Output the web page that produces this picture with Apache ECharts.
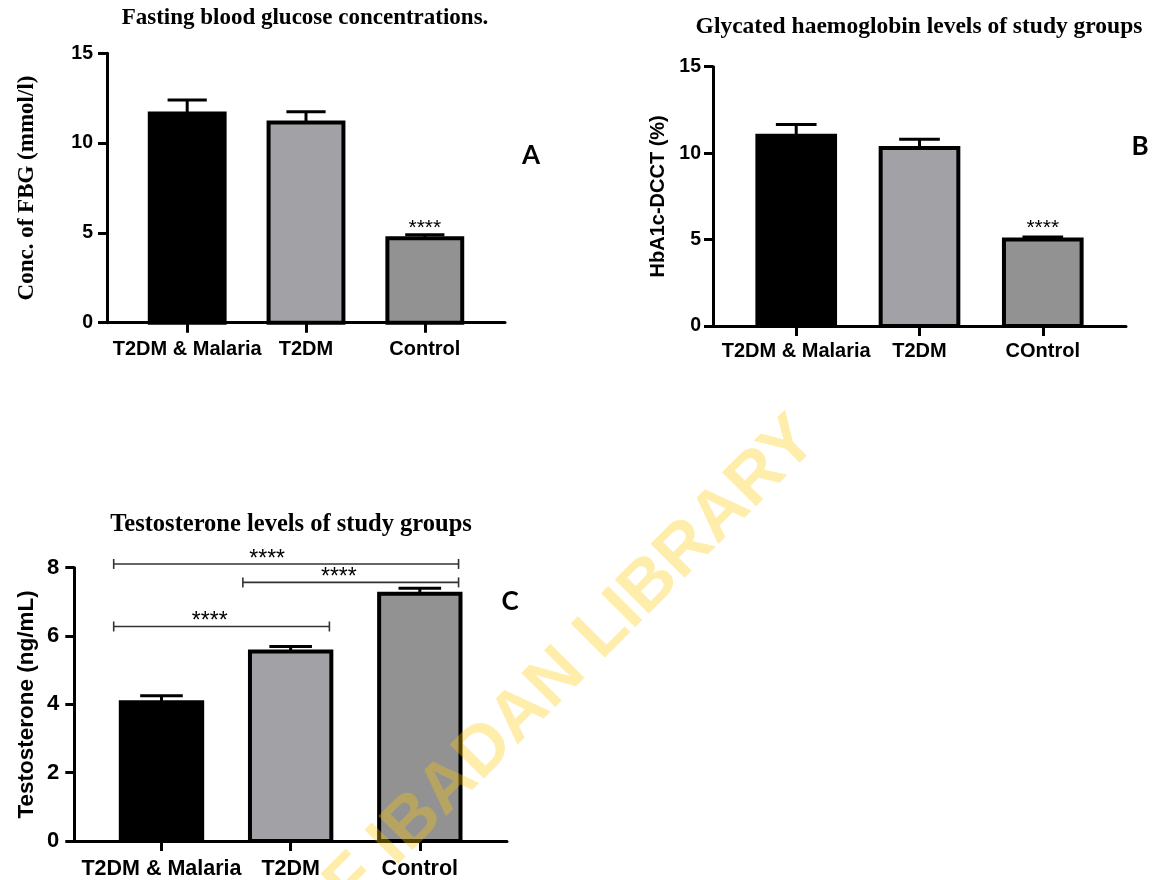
<!DOCTYPE html>
<html>
<head>
<meta charset="utf-8">
<script src="https://cdn.jsdelivr.net/npm/echarts@6/dist/echarts.min.js"></script>
<style>
  html, body { margin: 0; padding: 0; background: #fff; }
  #chart { width: 1157px; height: 880px; }
</style>
</head>
<body>
<div id="chart"></div>
<script>
// Groups
const groupsA = ['T2DM & Malaria', 'T2DM', 'Control'];
const groupsB = ['T2DM & Malaria', 'T2DM', 'COntrol'];
const groupsC = ['T2DM & Malaria', 'T2DM', 'Control'];

// A: fasting blood glucose (mmol/l), mean and SEM
const fbgMean = [11.65, 11.15, 4.7];
const fbgSem = [0.75, 0.6, 0.2];
const fbgSig = ['', '', '****'];

// B: HbA1c-DCCT (%), mean and SEM
const hba1cMean = [11.0, 10.3, 5.0];
const hba1cSem = [0.65, 0.5, 0.15];
const hba1cSig = ['', '', '****'];

// C: testosterone (ng/mL), mean and SEM
const testoMean = [4.06, 5.55, 7.24];
const testoSem = [0.19, 0.14, 0.16];

// C: pairwise comparisons [from group, to group], bracket height and result
const comparisons = [[0, 2], [1, 2], [0, 1]];
const comparisonLevel = [8.11, 7.57, 6.28];
const comparisonSig = ['****', '****', '****'];

// Axis ticks
const ticksA = [0, 5, 10, 15];
const ticksB = [0, 5, 10, 15];
const ticksC = [0, 2, 4, 6, 8];

const barColors = ['#000000', '#a2a1a6', '#929292'];
const SANS = '"Liberation Sans", Arial, Helvetica, sans-serif';
const SERIF = '"Liberation Serif", "Times New Roman", Times, serif';
const BAR_HALF = 0.315;
const CAP_HALF = 0.165;
const X_MIN = -0.675, X_MAX = 2.675;

function barRenderer(labels, starFont, starGap) {
  return function (params, api) {
    const i = api.value(0), mean = api.value(1), sem = api.value(2);
    const tl = api.coord([i - BAR_HALF, mean]);
    const br = api.coord([i + BAR_HALF, 0]);
    const top = api.coord([i, mean + sem]);
    const capL = api.coord([i - CAP_HALF, mean + sem]);
    const capR = api.coord([i + CAP_HALF, mean + sem]);
    const children = [
      { type: 'line', shape: { x1: top[0], y1: tl[1], x2: top[0], y2: top[1] },
        style: { stroke: '#000', lineWidth: 3 } },
      { type: 'line', shape: { x1: capL[0], y1: top[1], x2: capR[0], y2: top[1] },
        style: { stroke: '#000', lineWidth: 3 } },
      { type: 'rect', shape: { x: tl[0], y: tl[1], width: br[0] - tl[0], height: br[1] - tl[1] },
        style: { fill: barColors[params.dataIndex], stroke: '#000', lineWidth: 4 } }
    ];
    const lab = labels[params.dataIndex];
    if (lab) {
      children.push({ type: 'text', x: top[0], y: top[1] - starGap,
        style: { text: lab, fill: '#000', font: starFont, align: 'center', verticalAlign: 'middle',
                 textAlign: 'center', textVerticalAlign: 'middle' } });
    }
    return { type: 'group', children: children };
  };
}

// Significance bracket between two groups, with its result written a little left of centre
function bracketRenderer(params, api) {
  const a = api.value(0) - 0.37, b = api.value(1) + 0.30, lvl = api.value(2);
  const p1 = api.coord([a, lvl]);
  const p2 = api.coord([b, lvl]);
  const pm = api.coord([a + (b - a) * 0.445, lvl]);
  const st = { stroke: '#333', lineWidth: 1.6 };
  return { type: 'group', children: [
    { type: 'line', shape: { x1: p1[0], y1: p1[1], x2: p2[0], y2: p2[1] }, style: st },
    { type: 'line', shape: { x1: p1[0], y1: p1[1] - 5, x2: p1[0], y2: p1[1] + 5 }, style: st },
    { type: 'line', shape: { x1: p2[0], y1: p2[1] - 5, x2: p2[0], y2: p2[1] + 5 }, style: st },
    { type: 'text', x: pm[0], y: pm[1] - 4.5,
      style: { text: comparisonSig[params.dataIndex], fill: '#000', font: '23px ' + SANS,
               align: 'center', verticalAlign: 'middle', textAlign: 'center', textVerticalAlign: 'middle' } }
  ] };
}

function xAxisFor(gridIndex, names, fontSize, margin) {
  return {
    type: 'value', gridIndex: gridIndex, min: X_MIN, max: X_MAX,
    splitLine: { show: false },
    axisLine: { show: true, onZero: false, lineStyle: { color: '#000', width: 3 } },
    axisTick: { show: true, customValues: [0, 1, 2], length: 10, lineStyle: { color: '#000', width: 3 } },
    axisLabel: { customValues: [0, 1, 2], formatter: function (v) { return names[Math.round(v)]; },
                 color: '#000', fontFamily: SANS, fontWeight: 'bold', fontSize: fontSize, margin: margin }
  };
}

function yAxisFor(gridIndex, ticks, name, nameFont, nameSize, nameGap, labelSize, labelMargin) {
  return {
    type: 'value', gridIndex: gridIndex, min: ticks[0], max: ticks[ticks.length - 1],
    interval: ticks[1] - ticks[0],
    splitLine: { show: false },
    axisLine: { show: true, onZero: false, lineStyle: { color: '#000', width: 3 } },
    axisTick: { show: true, length: 9, lineStyle: { color: '#000', width: 3 } },
    axisLabel: { color: '#000', fontFamily: SANS, fontWeight: 'bold', fontSize: labelSize, margin: labelMargin },
    name: name, nameLocation: 'middle', nameRotate: 90, nameGap: nameGap,
    nameTextStyle: { color: '#000', fontFamily: nameFont, fontWeight: 'bold', fontSize: nameSize }
  };
}

const chart = echarts.init(document.getElementById('chart'), null, { renderer: 'canvas' });

const option = {
  backgroundColor: '#ffffff',
  animation: false,
  title: [
    { text: 'Fasting blood glucose concentrations.', left: 305, top: 7, textAlign: 'center', padding: 0,
      textStyle: { fontFamily: SERIF, fontWeight: 'bold', fontSize: 23, color: '#000' } },
    { text: 'Glycated haemoglobin levels of study groups', left: 919, top: 15, textAlign: 'center', padding: 0,
      textStyle: { fontFamily: SERIF, fontWeight: 'bold', fontSize: 23.5, color: '#000' } },
    { text: 'Testosterone levels of study groups', left: 291, top: 512, textAlign: 'center', padding: 0,
      textStyle: { fontFamily: SERIF, fontWeight: 'bold', fontSize: 24.5, color: '#000' } }
  ],
  grid: [
    { left: 107, top: 53.3, width: 398, height: 269.4 },
    { left: 713, top: 66.7, width: 413, height: 259.3 },
    { left: 74.3, top: 567.7, width: 432.7, height: 274 }
  ],
  xAxis: [
    xAxisFor(0, groupsA, 20, 17),
    xAxisFor(1, groupsB, 20, 15),
    xAxisFor(2, groupsC, 21.5, 17)
  ],
  yAxis: [
    yAxisFor(0, ticksA, 'Conc. of FBG (mmol/l)', SERIF, 23, 68, 19.5, 14),
    yAxisFor(1, ticksB, 'HbA1c-DCCT (%)', SANS, 20, 45, 19.5, 12),
    yAxisFor(2, ticksC, 'Testosterone (ng/mL)', SANS, 22.5, 36, 22, 15)
  ],
  series: [
    { type: 'custom', xAxisIndex: 0, yAxisIndex: 0, clip: false, encode: { x: 0, y: 1 },
      renderItem: barRenderer(fbgSig, '21px ' + SANS, 6),
      data: fbgMean.map(function (m, i) { return [i, m, fbgSem[i]]; }) },
    { type: 'custom', xAxisIndex: 1, yAxisIndex: 1, clip: false, encode: { x: 0, y: 1 },
      renderItem: barRenderer(hba1cSig, '21px ' + SANS, 9),
      data: hba1cMean.map(function (m, i) { return [i, m, hba1cSem[i]]; }) },
    { type: 'custom', xAxisIndex: 2, yAxisIndex: 2, clip: false, encode: { x: 0, y: 1 },
      renderItem: barRenderer(['', '', ''], '23px ' + SANS, 7),
      data: testoMean.map(function (m, i) { return [i, m, testoSem[i]]; }) },
    { type: 'custom', xAxisIndex: 2, yAxisIndex: 2, clip: false, encode: { x: 0, y: 2 },
      renderItem: bracketRenderer,
      data: comparisons.map(function (c, i) { return [c[0], c[1], comparisonLevel[i]]; }) }
  ],
  graphic: [
    { type: 'text', x: 531, y: 156, style: { text: 'A', font: 'bold 26px Lato, ' + SANS, fill: '#000',
      align: 'center', verticalAlign: 'middle', textAlign: 'center', textVerticalAlign: 'middle' } },
    { type: 'text', x: 1140, y: 147, style: { text: 'B', font: 'bold 26px Lato, ' + SANS, fill: '#000',
      align: 'center', verticalAlign: 'middle', textAlign: 'center', textVerticalAlign: 'middle' } },
    { type: 'text', x: 510, y: 602, style: { text: 'C', font: 'bold 26px Lato, ' + SANS, fill: '#000',
      align: 'center', verticalAlign: 'middle', textAlign: 'center', textVerticalAlign: 'middle' } },
    // library stamp across the lower half
    { type: 'text', x: 806, y: 429, rotation: Math.PI / 4, z: 100, silent: true,
      style: { text: 'UNIVERSITY OF IBADAN LIBRARY', font: 'bold 70px ' + SANS, fill: 'rgba(255, 200, 0, 0.33)',
               align: 'right', verticalAlign: 'middle', textAlign: 'right', textVerticalAlign: 'middle' } }
  ]
};

chart.setOption(option);
</script>
</body>
</html>
